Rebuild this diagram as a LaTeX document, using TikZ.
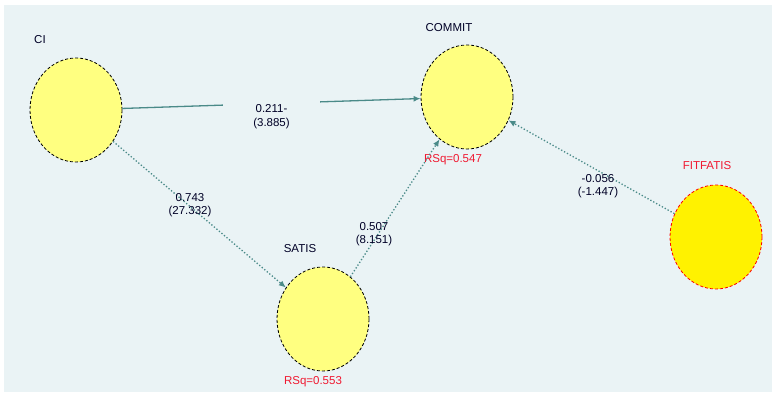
\documentclass[tikz,border=0pt]{standalone}
\usepackage{fontspec}
\setmainfont{Liberation Sans}
\usepackage{xcolor}
\usetikzlibrary{shapes,shapes.geometric,arrows,arrows.meta,positioning,calc}

\definecolor{bgcol}{HTML}{EAF3F5}
\definecolor{pathcol}{HTML}{4A8A88}
\definecolor{latfill}{HTML}{FFFF80}
\definecolor{rsqred}{HTML}{F01830}

\begin{document}
\begin{tikzpicture}[
    x=1pt, y=1pt,
    font=\fontsize{11.5}{13.5}\selectfont,
    latent/.style={ellipse, draw, dash pattern=on 3pt off 2pt, line width=0.8pt, fill=latfill, minimum width=92pt, minimum height=104pt, inner sep=0pt},
    exolatent/.style={latent, draw=red, fill=yellow},
    lbl/.style={align=center, text=black!85!blue, inner sep=1pt},
    rsq/.style={text=rsqred, inner sep=1pt},
    arrow/.style={-{Latex[length=7pt,width=6pt]}, draw=pathcol, line width=1.3pt},
    dotarrow/.style={arrow, dotted}
]
    % Canvas
    \useasboundingbox (0,0) rectangle (774,396);
    \fill[bgcol] (4,4) rectangle (772,391);

    % Constructs
    \node[latent] (ci) at (76,286) {};
    \node[latent] (commit) at (467,299) {};
    \node[latent] (satis) at (323,77) {};
    \node[exolatent] (fitfatis) at (716,159) {};

    % Names
    \node[lbl] (ciname) at (40,356) {CI};
    \node[lbl] (commitname) at (449,368) {COMMIT};
    \node[lbl] (satisname) at (300,147) {SATIS};
    \node[lbl, text=rsqred] (fitname) at (707,230) {FITFATIS};

    % R squared
    \node[rsq] (commitrsq) at (453,236) {RSq=0.547};
    \node[rsq] (satisrsq) at (313,14) {RSq=0.553};

    % Paths
    \draw[arrow] (ci) -- node[lbl, fill=bgcol, inner xsep=30pt, inner ysep=4pt, yshift=-13pt] {0.211-\\(3.885)} (commit);
    \draw[dotarrow] (ci) -- (satis);
    \draw[dotarrow] (satis) -- (commit);
    \draw[dotarrow] (fitfatis) -- (commit);

    % Path labels
    \node[lbl] (l2) at (190,191) {0.743\\(27.332)};
    \node[lbl] (l3) at (374,162) {0.507\\(8.151)};
    \node[lbl] (l4) at (598,210) {-0.056\\(-1.447)};
\end{tikzpicture}
\end{document}
